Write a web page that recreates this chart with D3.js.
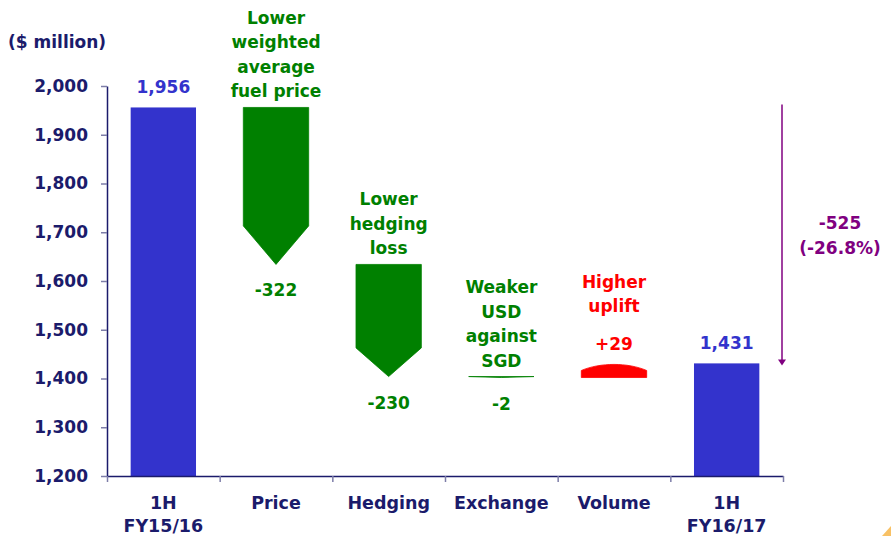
<!DOCTYPE html>
<html>
<head>
<meta charset="utf-8">
<script src="https://cdn.jsdelivr.net/npm/d3@7"></script>
<style>
  body { margin: 0; background: #fff; }
  text { font-family: "DejaVu Sans", Verdana, sans-serif; font-weight: bold; }
</style>
</head>
<body>
<svg class="chart"></svg>
<script>
// categories, one array of text lines per tick
var categories = ["1H FY15/16", "Price", "Hedging", "Exchange", "Volume", "1H FY16/17"];
var categoryLines = [["1H", "FY15/16"], ["Price"], ["Hedging"], ["Exchange"], ["Volume"], ["1H", "FY16/17"]];

// values: totals are levels, the middle ones are changes
var values = [1956, -322, -230, -2, 29, 1431];
var kinds = ["total", "delta", "delta", "delta", "delta", "total"];
var valueLabels = ["1,956", "-322", "-230", "-2", "+29", "1,431"];
var notes = [[], ["Lower", "weighted", "average", "fuel price"], ["Lower", "hedging", "loss"],
             ["Weaker", "USD", "against", "SGD"], ["Higher", "uplift"], []];

var yTicks = [1200, 1300, 1400, 1500, 1600, 1700, 1800, 1900, 2000];
var totalChange = ["-525", "(-26.8%)"];

var width = 891, height = 536;
var margin = {top: 86, right: 108, bottom: 60, left: 107};

var navy = "#1b1b6b", blue = "#3333cc", green = "#008000", red = "#ff0000", purple = "#800080";

var svg = d3.select(".chart")
    .attr("width", width)
    .attr("height", height);

var y = d3.scaleLinear()
    .domain([1200, 2000])
    .range([height - margin.bottom, margin.top]);

var x = d3.scaleBand()
    .domain(categories)
    .range([margin.left, width - margin.right])
    .paddingInner(0.42)
    .paddingOuter(0.21);

// boundaries between categories, for the x ticks
var xb = d3.scaleLinear()
    .domain([0, categories.length])
    .range([margin.left, width - margin.right]);

// build the running levels
var level = 0;
var steps = values.map(function(v, i) {
    var s;
    if (kinds[i] == "total") {
        s = {start: 1200, end: v, level: v};
        level = v;
    } else {
        s = {start: level, end: level + v};
        level = level + v;
    }
    s.cat = categories[i];
    s.kind = kinds[i];
    s.label = valueLabels[i];
    s.note = notes[i];
    s.lines = categoryLines[i];
    s.value = v;
    return s;
});

// totals
svg.append("g")
    .selectAll("rect")
    .data(steps.filter(function(d) { return d.kind == "total"; }))
    .enter().append("rect")
    .attr("x", function(d) { return x(d.cat); })
    .attr("y", function(d) { return y(d.end); })
    .attr("width", x.bandwidth())
    .attr("height", function(d) { return y(d.start) - y(d.end); })
    .attr("fill", blue);

// change arrows
function arrowPath(d) {
    var x0 = x(d.cat), x1 = x0 + x.bandwidth(), xc = x0 + x.bandwidth() / 2;
    var ys = y(d.start), ye = y(d.end);
    var len = Math.abs(ye - ys);
    var dir = ye > ys ? 1 : -1;
    var h = Math.min(0.22 * len + 4, len);
    var yb = ye - dir * h;
    if (dir < 0) {
        // the small rise gets a rounded cap
        return "M" + x0 + "," + ys + "L" + x1 + "," + ys + "L" + x1 + "," + yb +
            "C" + (xc + 14) + "," + (ye - 1) + " " + (xc - 14) + "," + (ye - 1) + " " + x0 + "," + yb + "Z";
    }
    return "M" + x0 + "," + ys + "L" + x1 + "," + ys + "L" + x1 + "," + yb +
        "L" + xc + "," + ye + "L" + x0 + "," + yb + "Z";
}

svg.append("g")
    .selectAll("path")
    .data(steps.filter(function(d) { return d.kind == "delta"; }))
    .enter().append("path")
    .attr("d", arrowPath)
    .attr("fill", function(d) { return d.value < 0 ? green : red; })
    .attr("stroke", function(d) { return d.value < 0 ? green : red; })
    .attr("stroke-width", 0.8);

// value labels
svg.append("g")
    .selectAll("text")
    .data(steps)
    .enter().append("text")
    .attr("x", function(d) { return x(d.cat) + x.bandwidth() / 2; })
    .attr("y", function(d) {
        if (d.kind == "total") return y(d.end) - 14;
        if (d.value < 0) return y(d.end) + 32;
        return y(d.end) - 13;
    })
    .attr("text-anchor", "middle")
    .attr("font-size", 17)
    .attr("fill", function(d) { return d.kind == "total" ? blue : (d.value < 0 ? green : red); })
    .text(function(d) { return d.label; });

// notes above the arrows
var note = svg.append("g")
    .selectAll("text")
    .data(steps.filter(function(d) { return d.note.length; }))
    .enter().append("text")
    .attr("text-anchor", "middle")
    .attr("font-size", 17)
    .attr("fill", function(d) { return d.value < 0 ? green : red; })
    .attr("transform", function(d) {
        var base = d.value < 0 ? Math.min(y(d.start), y(d.end)) - 10 : y(d.end) - 51;
        var top = base - (d.note.length - 1) * 24.5;
        return "translate(" + (x(d.cat) + x.bandwidth() / 2) + "," + top + ")";
    });

note.selectAll("tspan")
    .data(function(d) { return d.note; })
    .enter().append("tspan")
    .attr("x", 0)
    .attr("y", function(d, i) { return i * 24.5; })
    .text(function(d) { return d; });

// Y-Axis
var yAxis = d3.axisLeft(y)
    .tickValues(yTicks)
    .tickSize(6)
    .tickSizeOuter(0)
    .tickPadding(13)
    .tickFormat(d3.format(","));

var gy = svg.append("g")
    .attr("transform", "translate(" + margin.left + ",0)")
    .call(yAxis);
gy.select(".domain").attr("stroke", navy).attr("stroke-width", 1.5);
gy.selectAll(".tick line").attr("stroke", "#7d7da8").attr("stroke-width", 1.5);
gy.selectAll(".tick text")
    .attr("font-size", 17)
    .attr("fill", navy)
    .attr("font-family", "'DejaVu Sans', Verdana, sans-serif")
    .attr("font-weight", "bold");

// X-Axis
var xAxis = d3.axisBottom(xb)
    .tickValues(d3.range(categories.length + 1))
    .tickSize(6)
    .tickSizeOuter(0)
    .tickFormat("");

var gx = svg.append("g")
    .attr("transform", "translate(0," + y(1200) + ")")
    .call(xAxis);
gx.select(".domain").attr("stroke", navy).attr("stroke-width", 1.5);
gx.selectAll(".tick line").attr("stroke", "#7d7da8").attr("stroke-width", 1.5);

// category labels
var cat = svg.append("g")
    .selectAll("text")
    .data(steps)
    .enter().append("text")
    .attr("text-anchor", "middle")
    .attr("font-size", 17.5)
    .attr("fill", navy)
    .attr("transform", function(d) {
        return "translate(" + (x(d.cat) + x.bandwidth() / 2) + "," + (y(1200) + 33) + ")";
    });

cat.selectAll("tspan")
    .data(function(d) { return d.lines; })
    .enter().append("tspan")
    .attr("x", 0)
    .attr("y", function(d, i) { return i * 23; })
    .text(function(d) { return d; });

// unit label
svg.append("text")
    .attr("x", 8)
    .attr("y", 48)
    .attr("font-size", 17)
    .attr("fill", navy)
    .text("($ million)");

// overall change arrow on the right
var ax = width - margin.right - 1;
var yTop = y(values[0]) - 3, yBot = y(values[values.length - 1]) + 2;
svg.append("line")
    .attr("x1", ax).attr("x2", ax)
    .attr("y1", yTop).attr("y2", yBot - 5)
    .attr("stroke", purple)
    .attr("stroke-width", 1.5);
svg.append("path")
    .attr("d", "M" + (ax - 4) + "," + (yBot - 6) + "L" + (ax + 4) + "," + (yBot - 6) + "L" + ax + "," + yBot + "Z")
    .attr("fill", purple);

var mid = (yTop + yBot) / 2;
svg.append("text")
    .attr("text-anchor", "middle")
    .attr("font-size", 17)
    .attr("fill", purple)
    .selectAll("tspan")
    .data(totalChange)
    .enter().append("tspan")
    .attr("x", ax + 58)
    .attr("y", function(d, i) { return mid - 6 + i * 25; })
    .text(function(d) { return d; });

// bit of logo in the corner
svg.append("path")
    .attr("d", "M882,536L891,526L891,536Z")
    .attr("fill", "#f5a623")
    .attr("opacity", 0.7);
</script>
</body>
</html>
